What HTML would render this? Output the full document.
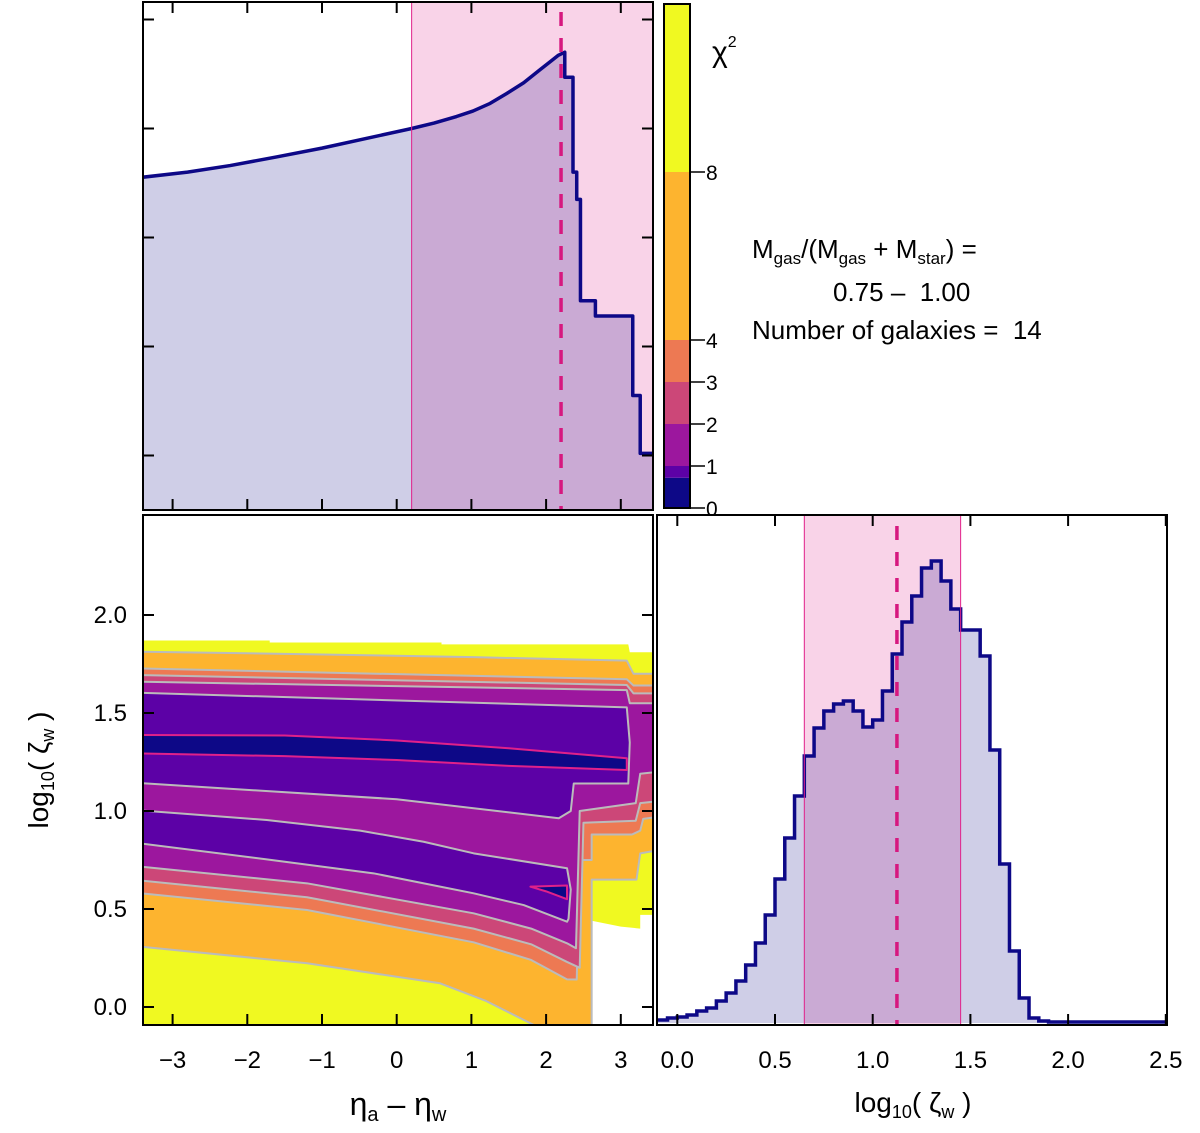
<!DOCTYPE html>
<html><head><meta charset="utf-8"><style>
body{margin:0;background:#fff}
svg{display:block;font-family:"Liberation Sans",sans-serif}
</style></head><body>
<svg id="fig" width="1200" height="1133" viewBox="0 0 1200 1133">
<defs>
<clipPath id="clipTop"><rect x="143" y="2" width="510" height="508"/></clipPath>
<clipPath id="clipBL"><rect x="143" y="515" width="510" height="510"/></clipPath>
<clipPath id="clipBR"><rect x="657" y="515" width="510" height="510"/></clipPath>
</defs>
<g id="top"></g>
<g id="bl"></g>
<g id="br"></g>
<g id="cb"></g>
<text x="712" y="62" font-size="30">χ<tspan font-size="16" dy="-15">2</tspan></text>
<g font-size="26">
<text x="752" y="258">M<tspan font-size="17" dy="6">gas</tspan><tspan dy="-6">/(M</tspan><tspan font-size="17" dy="6">gas</tspan><tspan dy="-6">&#160;+&#160;M</tspan><tspan font-size="17" dy="6">star</tspan><tspan dy="-6">)&#160;=</tspan></text>
<text x="833" y="301">0.75 –&#160;&#160;1.00</text>
<text x="752" y="339">Number of galaxies =&#160;&#160;14</text>
</g>
<text x="398" y="1115" font-size="32" text-anchor="middle">η<tspan font-size="20" dy="6">a</tspan><tspan dy="-6"> – η</tspan><tspan font-size="20" dy="6">w</tspan></text>
<text x="913" y="1112" font-size="28" text-anchor="middle">log<tspan font-size="18" dy="6">10</tspan><tspan dy="-6">( ζ</tspan><tspan font-size="18" dy="6">w</tspan><tspan dy="-6"> )</tspan></text>
<text transform="translate(48,770) rotate(-90)" font-size="28" text-anchor="middle">log<tspan font-size="18" dy="6">10</tspan><tspan dy="-6">( ζ</tspan><tspan font-size="18" dy="6">w</tspan><tspan dy="-6"> )</tspan></text>
</svg>
<script>
// ---- top marginal (eta) ----
const topSmoothEta = [-3.44,-2.8,-2.23,-1.6,-1.0,-0.4,0.2,0.5,0.8,1.02,1.25,1.47,1.7,1.92,2.05,2.16,2.25];
const topSmoothVal = [3.05,3.10,3.16,3.24,3.32,3.41,3.50,3.55,3.61,3.66,3.73,3.82,3.92,4.04,4.11,4.17,4.20];
const topStepEdges = [2.25,2.36,2.41,2.46,2.66,3.16,3.26,3.44];
const topStepVals = [3.97,3.10,2.85,1.92,1.78,1.05,0.52];
const topBand = [0.2,3.5];
const topBest = 2.2;
const etaTicks = [-3,-2,-1,0,1,2,3];
const topYTicks = [0.5,1.5,2.5,3.5,4.5];
// ---- zeta histogram ----
const zetaBinStart = -0.1;
const zetaBinWidth = 0.05;
const zetaCounts = [0.03,0.05,0.06,0.08,0.12,0.15,0.22,0.30,0.42,0.58,0.80,1.08,1.44,1.85,2.27,2.67,2.95,3.12,3.19,3.22,3.12,2.96,3.03,3.32,3.69,4.01,4.27,4.55,4.62,4.42,4.14,3.93,3.93,3.67,2.73,1.59,0.72,0.25,0.05,0.02,0.01,0.01,0.01,0.01,0.01,0.01,0.01,0.01,0.01,0.01,0.01,0.01];
const zetaBand = [0.65,1.45];
const zetaBest = 1.124;
const zetaTicks = [0.0,0.5,1.0,1.5,2.0,2.5];
const zetaTickLabels = ["0.0","0.5","1.0","1.5","2.0","2.5"];
// ---- contour ----
const logZetaTicks = [0.0,0.5,1.0,1.5,2.0];
const logZetaTickLabels = ["0.0","0.5","1.0","1.5","2.0"];
const chiLevels = [0,0.72,1,2,3,4,8,12];
const chiColors = ["#0d0887","#5c01a6","#9c179e","#cc4778","#ed7953","#fdb42f","#f0f921"];
const chiTickVals = [0,1,2,3,4,8];
const regionYellow = [[-3.5,1.87],[-1.7,1.87],[-1.7,1.86],[0.6,1.86],[0.6,1.85],[3.1,1.85],[3.12,1.81],[3.5,1.81],[3.5,0.47],[3.26,0.47],[3.26,0.40],[3.0,0.41],[2.61,0.44],[2.61,-0.2],[-3.5,-0.2]];
const regionChi8 = [[-3.5,1.813],[-1.2,1.80],[1.03,1.785],[3.08,1.767],[3.17,1.70],[3.5,1.70],[3.5,0.80],[3.26,0.784],[3.21,0.65],[2.61,0.65],[2.61,-0.2],[2.41,-0.2],[1.79,-0.083],[1.2,0.03],[0.58,0.121],[-1.2,0.223],[-3.5,0.311]];
const regionChi4 = [[-3.5,1.728],[3.08,1.672],[3.17,1.64],[3.5,1.64],[3.5,0.97],[3.3,0.96],[3.26,0.90],[3.15,0.88],[2.61,0.88],[2.61,0.75],[2.45,0.75],[2.41,0.14],[2.28,0.141],[1.8,0.24],[1.03,0.33],[-1.2,0.495],[-3.5,0.583]];
const regionChi3 = [[-3.5,1.694],[3.08,1.643],[3.17,1.60],[3.5,1.60],[3.5,1.05],[3.26,1.04],[3.2,0.95],[2.5,0.94],[2.45,0.2],[2.28,0.23],[1.8,0.32],[1.03,0.40],[-1.2,0.56],[-3.5,0.648]];
const regionChi2 = [[-3.5,1.66],[3.08,1.617],[3.12,1.55],[3.5,1.55],[3.5,1.2],[3.26,1.19],[3.2,1.04],[2.45,1.0],[2.40,0.3],[2.28,0.325],[1.8,0.40],[1.03,0.478],[-1.2,0.631],[-3.5,0.719]];
const regionChi1a = [[-3.5,1.604],[3.08,1.529],[3.12,1.35],[3.10,1.14],[2.37,1.14],[2.33,1.0],[2.17,0.963],[0,1.06],[-3.5,1.144]];
const regionChi1b = [[-3.5,1.005],[-1.74,0.954],[-0.49,0.90],[0.36,0.843],[1.03,0.784],[2.28,0.708],[2.33,0.6],[2.30,0.45],[2.28,0.435],[1.7,0.52],[1.03,0.58],[-0.31,0.682],[-1.74,0.753],[-3.5,0.838]];
const regionNavyA = [[-3.5,1.388],[-1.5,1.385],[0,1.36],[1.5,1.32],[3.08,1.269],[3.08,1.209],[1.5,1.23],[0,1.26],[-1.5,1.28],[-3.5,1.294]];
const regionNavyB = [[1.79,0.614],[2.28,0.62],[2.28,0.55],[2.0,0.59]];

const NS="http://www.w3.org/2000/svg";
function mk(parent,tag,attrs){const e=document.createElementNS(NS,tag);for(const k in attrs)e.setAttribute(k,attrs[k]);parent.appendChild(e);return e;}
const xEta = v => 396.7 + 74.7*v;
const yTop = v => 510 - 109*v;
const yLZ = v => 1007 - 196*v;
const xZ = v => 677.3 + 195.4*v;
const yZH = v => 1023 - 100*v;

// ===== top panel =====
const gT=document.getElementById('top');
const gTc=mk(gT,'g',{'clip-path':'url(#clipTop)'});
let d=`M${xEta(topSmoothEta[0])},510`;
topSmoothEta.forEach((e,i)=>{d+=` L${xEta(e)},${yTop(topSmoothVal[i])}`;});
let lineD=`M${xEta(topSmoothEta[0])},${yTop(topSmoothVal[0])}`;
topSmoothEta.forEach((e,i)=>{lineD+=` L${xEta(e)},${yTop(topSmoothVal[i])}`;});
topStepVals.forEach((v,i)=>{d+=` L${xEta(topStepEdges[i])},${yTop(v)} L${xEta(topStepEdges[i+1])},${yTop(v)}`;lineD+=` L${xEta(topStepEdges[i])},${yTop(v)} L${xEta(topStepEdges[i+1])},${yTop(v)}`;});
d+=` L${xEta(topStepEdges[topStepEdges.length-1])},510 Z`;
const tb=mk(gTc,'rect',{x:xEta(topBand[0]),y:2,width:xEta(topBand[1])-xEta(topBand[0]),height:508,fill:'#e0218a','fill-opacity':0.2});


const tf=mk(gTc,'path',{d:d,fill:'#0d0887','fill-opacity':0.2});


const tl=mk(gTc,'path',{d:lineD,fill:'none',stroke:'#0d0887','stroke-width':3.5,'stroke-linejoin':'round'});


mk(gTc,'line',{x1:xEta(topBand[0]),x2:xEta(topBand[0]),y1:2,y2:510,stroke:'#e0218a','stroke-width':1});
const tbest=mk(gTc,'line',{x1:xEta(topBest),x2:xEta(topBest),y1:12,y2:510,stroke:'#d6187f','stroke-width':3.5,'stroke-dasharray':'14,12'});


mk(gT,'rect',{x:143,y:2,width:510,height:508,fill:'none',stroke:'#000','stroke-width':2});
etaTicks.forEach(t=>{const x=xEta(t);mk(gT,'line',{x1:x,x2:x,y1:2,y2:13,stroke:'#000','stroke-width':2});mk(gT,'line',{x1:x,x2:x,y1:499,y2:510,stroke:'#000','stroke-width':2});});
topYTicks.forEach(t=>{const y=yTop(t);mk(gT,'line',{x1:143,x2:154,y1:y,y2:y,stroke:'#000','stroke-width':2});mk(gT,'line',{x1:642,x2:653,y1:y,y2:y,stroke:'#000','stroke-width':2});});

// ===== contour panel =====
const gB=document.getElementById('bl');
const gBc=mk(gB,'g',{'clip-path':'url(#clipBL)'});
function poly(pts){return pts.map((p,i)=>(i?'L':'M')+xEta(p[0])+','+yLZ(p[1])).join(' ')+' Z';}
const regs=[[regionYellow,chiColors[6],'none','chi2-above-8'],[regionChi8,chiColors[5],'#bbbbbb','chi2-below-8'],[regionChi4,chiColors[4],'#bbbbbb','chi2-below-4'],[regionChi3,chiColors[3],'#bbbbbb','chi2-below-3'],[regionChi2,chiColors[2],'#bbbbbb','chi2-below-2'],[regionChi1a,chiColors[1],'#bbbbbb','chi2-below-1-upper'],[regionChi1b,chiColors[1],'#bbbbbb','chi2-below-1-lower'],[regionNavyA,chiColors[0],'#e0218a','chi2-minimum-band'],[regionNavyB,chiColors[0],'#e0218a','chi2-minimum-spot']];
regs.forEach(r=>{const p=mk(gBc,'path',{d:poly(r[0]),fill:r[1],stroke:r[2],'stroke-width':2,'stroke-linejoin':'round'});

});
mk(gB,'rect',{x:143,y:515,width:510,height:510,fill:'none',stroke:'#000','stroke-width':2});
etaTicks.forEach(t=>{const x=xEta(t);mk(gB,'line',{x1:x,x2:x,y1:1014,y2:1025,stroke:'#000','stroke-width':2});
const tx=mk(gB,'text',{x:x,y:1068,'font-size':24,'text-anchor':'middle'});tx.textContent=(t<0?'−':'')+Math.abs(t);

});
logZetaTicks.forEach((t,i)=>{const y=yLZ(t);mk(gB,'line',{x1:143,x2:154,y1:y,y2:y,stroke:'#000','stroke-width':2});mk(gB,'line',{x1:642,x2:653,y1:y,y2:y,stroke:'#000','stroke-width':2});
const tx=mk(gB,'text',{x:127,y:y+8,'font-size':24,'text-anchor':'end'});tx.textContent=logZetaTickLabels[i];

});

// ===== zeta histogram =====
const gR=document.getElementById('br');
const gRc=mk(gR,'g',{'clip-path':'url(#clipBR)'});
let hd=`M${xZ(zetaBinStart)},1023`;let hl='';
zetaCounts.forEach((v,i)=>{const a=xZ(zetaBinStart+i*zetaBinWidth),b=xZ(zetaBinStart+(i+1)*zetaBinWidth);hd+=` L${a},${yZH(v)} L${b},${yZH(v)}`;hl+=(i?' L':'M')+`${a},${yZH(v)} L${b},${yZH(v)}`;});
hd+=` L${xZ(zetaBinStart+zetaCounts.length*zetaBinWidth)},1023 Z`;
const rb=mk(gRc,'rect',{x:xZ(zetaBand[0]),y:515,width:xZ(zetaBand[1])-xZ(zetaBand[0]),height:510,fill:'#e0218a','fill-opacity':0.2});


const hf=mk(gRc,'path',{d:hd,fill:'#0d0887','fill-opacity':0.2});


const hs=mk(gRc,'path',{d:hl,fill:'none',stroke:'#0d0887','stroke-width':3.5});


zetaBand.forEach(b=>mk(gRc,'line',{x1:xZ(b),x2:xZ(b),y1:515,y2:1025,stroke:'#e0218a','stroke-width':1}));
const rbest=mk(gRc,'line',{x1:xZ(zetaBest),x2:xZ(zetaBest),y1:526,y2:1025,stroke:'#d6187f','stroke-width':3.5,'stroke-dasharray':'14,12'});


mk(gR,'rect',{x:657,y:515,width:510,height:510,fill:'none',stroke:'#000','stroke-width':2});
zetaTicks.forEach((t,i)=>{const x=xZ(t);mk(gR,'line',{x1:x,x2:x,y1:515,y2:526,stroke:'#000','stroke-width':2});mk(gR,'line',{x1:x,x2:x,y1:1014,y2:1025,stroke:'#000','stroke-width':2});
const tx=mk(gR,'text',{x:x,y:1068,'font-size':24,'text-anchor':'middle'});tx.textContent=zetaTickLabels[i];

});

// ===== colorbar =====
const gC=document.getElementById('cb');
const yCB=v=>508-42*v;
chiColors.forEach((c,i)=>{const r=mk(gC,'rect',{x:664,y:yCB(chiLevels[i+1]),width:26,height:yCB(chiLevels[i])-yCB(chiLevels[i+1]),fill:c});

});
mk(gC,'rect',{x:664,y:yCB(chiLevels[7]),width:26,height:yCB(0)-yCB(chiLevels[7]),fill:'none',stroke:'#000','stroke-width':2});
chiTickVals.forEach(t=>{const y=yCB(t);mk(gC,'line',{x1:690,x2:705,y1:y,y2:y,stroke:'#000','stroke-width':1.5});
const tx=mk(gC,'text',{x:706,y:y+8,'font-size':21});tx.textContent=t;

});
</script>
</body></html>
